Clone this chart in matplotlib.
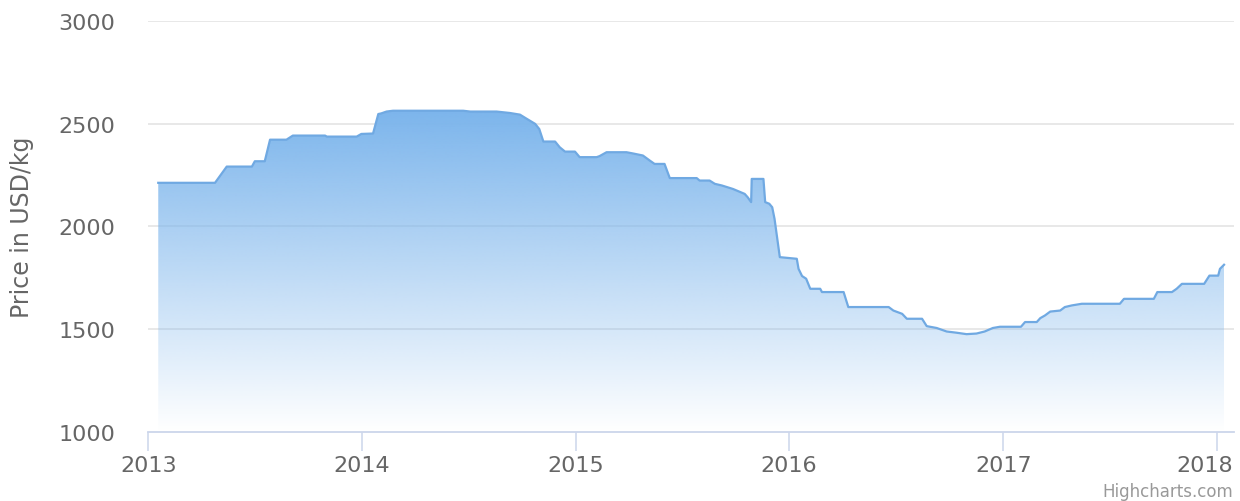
import matplotlib
matplotlib.use("Agg")
import matplotlib.pyplot as plt
import matplotlib.dates as mdates
import matplotlib.transforms as mtransforms
import numpy as np
import pandas as pd
from matplotlib.colors import to_rgb

# ---- data ----
dates = [
    '2013-01-18', '2013-04-25', '2013-05-15', '2013-06-27', '2013-07-02',
    '2013-07-19', '2013-07-28', '2013-08-25', '2013-09-05', '2013-10-30',
    '2013-11-02', '2013-12-23', '2013-12-31', '2014-01-20', '2014-01-29',
    '2014-02-03', '2014-02-12', '2014-02-23', '2014-06-23', '2014-07-05',
    '2014-08-19', '2014-09-11', '2014-09-28', '2014-10-10', '2014-10-24',
    '2014-10-31', '2014-11-07', '2014-11-27', '2014-12-05', '2014-12-14',
    '2014-12-31', '2015-01-08', '2015-02-06', '2015-02-11', '2015-02-23',
    '2015-03-29', '2015-04-09', '2015-04-26', '2015-05-08', '2015-05-16',
    '2015-06-02', '2015-06-11', '2015-07-27', '2015-08-01', '2015-08-18',
    '2015-08-27', '2015-09-08', '2015-09-27', '2015-10-17', '2015-10-22',
    '2015-10-28', '2015-10-29', '2015-11-18', '2015-11-21', '2015-11-28',
    '2015-12-03', '2015-12-07', '2015-12-16', '2016-01-14', '2016-01-17',
    '2016-01-23', '2016-01-30', '2016-02-06', '2016-02-23', '2016-02-26',
    '2016-04-03', '2016-04-11', '2016-06-19', '2016-06-27', '2016-07-12',
    '2016-07-20', '2016-08-15', '2016-08-23', '2016-09-09', '2016-09-26',
    '2016-10-13', '2016-10-30', '2016-11-16', '2016-11-30', '2016-12-14',
    '2016-12-26', '2017-01-31', '2017-02-07', '2017-02-27', '2017-03-05',
    '2017-03-13', '2017-03-22', '2017-04-08', '2017-04-16', '2017-04-28',
    '2017-05-15', '2017-07-19', '2017-07-26', '2017-09-15', '2017-09-21',
    '2017-10-16', '2017-10-24', '2017-11-02', '2017-12-10', '2017-12-19',
    '2018-01-03', '2018-01-06', '2018-01-13',
]
prices = [
    2212, 2212, 2291, 2291, 2317,
    2317, 2422, 2422, 2442, 2442,
    2437, 2437, 2450, 2452, 2547,
    2550, 2559, 2563, 2563, 2559,
    2559, 2552, 2544, 2523, 2499,
    2474, 2413, 2413, 2385, 2364,
    2364, 2337, 2337, 2342, 2361,
    2361, 2355, 2345, 2320, 2304,
    2304, 2235, 2235, 2223, 2223,
    2207, 2199, 2182, 2158, 2142,
    2118, 2231, 2231, 2118, 2110,
    2093, 2036, 1850, 1842, 1793,
    1758, 1745, 1696, 1696, 1680,
    1680, 1607, 1607, 1590, 1574,
    1550, 1550, 1514, 1505, 1488,
    1482, 1475, 1478, 1488, 1505,
    1511, 1511, 1534, 1534, 1553,
    1566, 1585, 1590, 1607, 1615,
    1623, 1623, 1647, 1647, 1680,
    1680, 1696, 1720, 1720, 1760,
    1760, 1793, 1813,
]
year_ticks = ['2013', '2014', '2015', '2016', '2017', '2018']
y_ticks = [1000, 1500, 2000, 2500, 3000]
y_title = 'Price in USD/kg'
credit = 'Highcharts.com'

# ---- style ----
plt.rcParams['font.family'] = ['DejaVu Sans']
series_color = '#7cb5ec'
text_color = '#666666'
grid_color = '#e6e6e6'
axis_color = '#ccd6eb'

W, H = 1240, 502
fig = plt.figure(figsize=(W / 100, H / 100), dpi=100)
left_px, right_px, top_px, bottom_px = 148.3, 1234, 22, 432.7
ax = fig.add_axes([left_px / W, 1 - bottom_px / H,
                   (right_px - left_px) / W, (bottom_px - top_px) / H])

x = mdates.date2num(pd.to_datetime(dates).to_pydatetime())
y = np.array(prices, dtype=float)
base = y_ticks[0]

ax.set_ylim(y_ticks[0], y_ticks[-1])
ax.set_xlim(mdates.date2num(pd.Timestamp('2013-01-01')),
            mdates.date2num(pd.Timestamp('2018-01-30')))

# gridlines (under the semi-transparent fill)
for v in y_ticks[1:]:
    ax.axhline(v, color=grid_color, lw=1.3, zorder=0)

# gradient fill, clipped to the area polygon
poly = ax.fill_between(x, y, base, facecolor='none', edgecolor='none', zorder=1)
rgb = np.array(to_rgb(series_color))
n = 256
alpha = np.linspace(1.0, 0.0, n)
img = np.zeros((n, 2, 4))
img[..., :3] = rgb
img[..., 3] = alpha[:, None]
im = ax.imshow(img, extent=[x[0], x[-1], base, y.max()], origin='upper',
               aspect='auto', zorder=1, interpolation='bilinear')
im.set_clip_path(poly.get_paths()[0], transform=ax.transData)

ax.plot(x, y, color='#70a9e2', lw=1.6, zorder=2, solid_joinstyle='round')

# axes styling
for s in ['left', 'right', 'top']:
    ax.spines[s].set_visible(False)
ax.spines['bottom'].set_color(axis_color)
ax.spines['bottom'].set_linewidth(1.3)
ax.spines['bottom'].set_zorder(3)

ax.set_yticks(y_ticks)
ax.set_yticklabels([str(v) for v in y_ticks])
ax.tick_params(axis='y', length=0, pad=24, labelsize=16, labelcolor=text_color)

ax.set_xticks([mdates.date2num(pd.Timestamp(t + '-01-01')) for t in year_ticks])
ax.set_xticklabels(year_ticks)
ax.tick_params(axis='x', direction='out', length=13.5, width=1.1, color=axis_color,
               pad=3, labelsize=16, labelcolor=text_color)

# last x label kept inside the chart (Highcharts overflow justify)
last = ax.get_xticklabels()[-1]
last.set_horizontalalignment('right')
last.set_transform(last.get_transform() +
                   mtransforms.ScaledTranslation(16 / 100, 0, fig.dpi_scale_trans))

fig.text(22 / W, 1 - 227 / H, y_title, rotation=90, ha='center', va='center',
         fontsize=17, color=text_color)
fig.text(1233 / W, 1 - 492 / H, credit, ha='right', va='center',
         fontsize=12, color='#999999')

fig.savefig('out.png', dpi=100)
